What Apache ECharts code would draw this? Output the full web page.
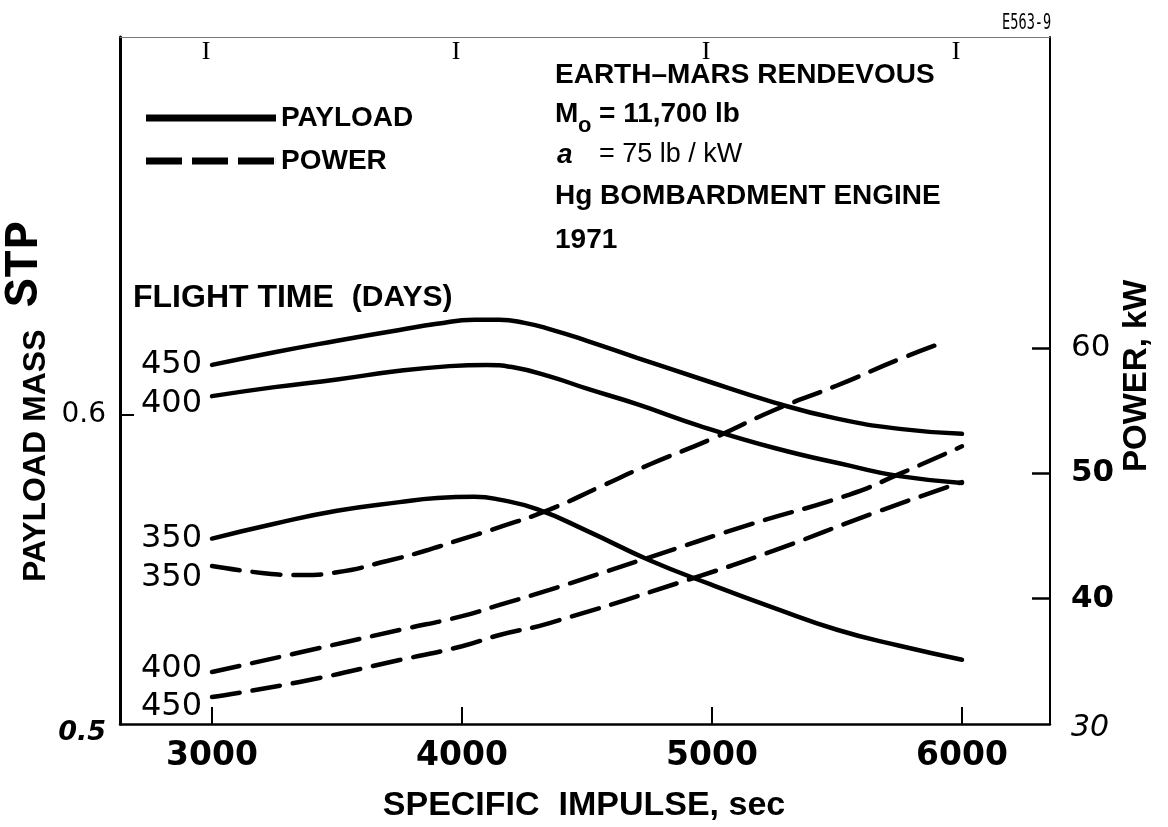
<!DOCTYPE html>
<html><head><meta charset="utf-8">
<script src="https://cdn.jsdelivr.net/npm/echarts@6/dist/echarts.min.js"></script>
<style>html,body{margin:0;padding:0;background:#fff}#c{width:1168px;height:827px}</style>
</head><body><div id="c"></div><script>
// ---- data ----
const xTicks = [3000, 4000, 5000, 6000];
const leftLabels = [0.5, 0.6];
const leftTicks = [0.6];
const rightLabels = [30, 40, 50, 60];
const rightTicks = [40, 50, 60];

const payload450X = [3000,3250,3500,3750,3900,4050,4150,4250,4350,4500,4700,4950,5250,5500,5750,6000];
const payload450Y = [0.6162,0.6203,0.6240,0.6275,0.6295,0.6308,0.6308,0.6298,0.6278,0.6240,0.6185,0.6118,0.6040,0.5988,0.5955,0.5939];
const payload400X = [3000,3250,3500,3750,3950,4100,4200,4350,4500,4700,4950,5250,5550,5750,6000];
const payload400Y = [0.6061,0.6090,0.6115,0.6143,0.6158,0.6162,0.6155,0.6125,0.6085,0.6035,0.5965,0.5893,0.5836,0.5802,0.5780];
const payload350X = [3000,3250,3500,3750,3900,4050,4150,4300,4500,4750,5000,5250,5500,5750,6000];
const payload350Y = [0.5600,0.5648,0.5690,0.5718,0.5731,0.5735,0.5726,0.5695,0.5625,0.5530,0.5450,0.5375,0.5305,0.5253,0.5208];

const power350X = [3000,3200,3350,3500,3700,3850,4000,4150,4350,4550,4750,5000,5250,5500,5750,5920];
const power350Y = [42.6,42.05,41.88,42.1,43.0,43.8,44.75,45.7,47.1,48.9,50.7,52.75,55.05,57.0,59.1,60.4];
const power400X = [3000,3350,3750,4000,4150,4350,4750,5150,5550,5750,6000];
const power400Y = [34.15,35.7,37.5,38.6,39.5,40.7,43.3,45.9,48.3,49.95,52.15];
const power450X = [3000,3350,3750,4000,4150,4350,4950,5250,5650,6000];
const power450Y = [32.15,33.35,35.1,36.2,37.1,38.05,41.8,43.85,46.85,49.3];

const payloadDays = ['450', '400', '350'];
const powerDays = ['350', '400', '450'];
const legendNames = ['PAYLOAD', 'POWER'];

// ---- chart ----
function mk(name, xs, ys, yAxisIndex, dashed, labelText, labelDy) {
  return {
    name: name, type: 'line', xAxisIndex: 0, yAxisIndex: yAxisIndex,
    smooth: 0.5,
    symbol: 'none', showSymbol: true, showAllSymbol: true,
    silent: true, animation: false, z: 3,
    lineStyle: { color: '#000', width: 4.5, type: dashed ? [28, 13] : 'solid', cap: 'round' },
    itemStyle: { color: '#000' },
    data: xs.map(function (x, i) {
      if (i === 0) {
        return { value: [x, ys[i]], symbol: 'circle', symbolSize: 0,
          label: { show: true, position: 'left', distance: 10, formatter: labelText,
            offset: [0, labelDy], fontSize: 32, fontFamily: 'DejaVu Sans', color: '#000' } };
      }
      return [x, ys[i]];
    })
  };
}

const chart = echarts.init(document.getElementById('c'), null, { renderer: 'canvas' });
const F = 'Liberation Sans';
chart.setOption({
  backgroundColor: '#fff',
  animation: false,
  grid: { left: 120, right: 118, top: 37, bottom: 103, containLabel: false },
  legend: {
    orient: 'vertical', left: 141, top: 99, itemWidth: 130, itemHeight: 7, itemGap: 15, itemTextGap: 19,
    selectedMode: false, symbolKeepAspect: false,
    itemStyle: { color: '#000', borderWidth: 0, borderColor: 'transparent' },
    textStyle: { fontFamily: F, fontWeight: 'bold', fontSize: 28, color: '#000' },
    data: [
      { name: legendNames[0], icon: 'path://M0,0H130V6H0Z', itemStyle: { color: '#000', borderWidth: 0 } },
      { name: legendNames[1], icon: 'path://M0,0H36V6H0Z M46,0H82V6H46Z M92,0H128V6H92Z M129.9,0H130V6H129.9Z', itemStyle: { color: '#000', borderWidth: 0 } }
    ]
  },
  xAxis: [
    { type: 'value', min: 2632, max: 6352, position: 'bottom',
      axisLine: { show: true, onZero: false, lineStyle: { color: '#000', width: 2.5 } },
      axisTick: { show: true, inside: true, length: 17, customValues: xTicks, lineStyle: { color: '#000', width: 2 } },
      axisLabel: { customValues: xTicks, margin: 16, fontFamily: 'DejaVu Sans', fontWeight: 'bold', fontSize: 33, color: '#000',
        formatter: function (v) { return String(v); } },
      splitLine: { show: false } },
    { type: 'value', min: 2632, max: 6352, position: 'top',
      axisLine: { show: true, onZero: false, lineStyle: { color: '#777', width: 1 } },
      axisTick: { show: false },
      axisLabel: { inside: true, customValues: xTicks, formatter: function () { return 'I'; }, margin: 2,
        fontFamily: 'Liberation Serif', fontSize: 26, color: '#000', padding: [0, 12, 0, 0] },
      splitLine: { show: false } }
  ],
  yAxis: [
    { type: 'value', min: 0.5, max: 0.7223, position: 'left',
      axisLine: { show: true, onZero: false, lineStyle: { color: '#000', width: 3 } },
      axisTick: { show: true, inside: true, length: 14, customValues: leftTicks, lineStyle: { color: '#000', width: 2 } },
      axisLabel: { customValues: leftLabels, margin: 14, color: '#000',
        formatter: function (v) { return v < 0.55 ? '{bi|' + v.toFixed(1) + '}' : '{n|' + v.toFixed(1) + '}'; },
        rich: {
          n: { fontFamily: 'DejaVu Sans', fontSize: 28, color: '#000' },
          bi: { fontFamily: 'DejaVu Sans', fontSize: 27, fontWeight: 'bold', fontStyle: 'italic', color: '#000', padding: [18, 0, 0, 0] }
        } },
      splitLine: { show: false } },
    { type: 'value', min: 30, max: 84.8, position: 'right',
      axisLine: { show: true, onZero: false, lineStyle: { color: '#000', width: 2 } },
      axisTick: { show: true, inside: true, length: 18, customValues: rightTicks, lineStyle: { color: '#000', width: 2.5 } },
      axisLabel: { customValues: rightLabels, margin: 21, color: '#000',
        formatter: function (v) {
          if (v === 60) return '{n|' + v + '}';
          if (v === 30) return '{i|' + v + '}';
          return '{b|' + v + '}';
        },
        rich: {
          n: { fontFamily: 'DejaVu Sans', fontSize: 31, color: '#000' },
          b: { fontFamily: 'DejaVu Sans', fontSize: 31, fontWeight: 'bold', color: '#000' },
          i: { fontFamily: 'DejaVu Sans', fontSize: 30, fontStyle: 'italic', color: '#000', padding: [8, 0, 0, 0] }
        } },
      splitLine: { show: false } }
  ],
  series: [
    mk(legendNames[0], payload450X, payload450Y, 0, false, payloadDays[0], 0),
    mk(legendNames[0], payload400X, payload400Y, 0, false, payloadDays[1], 8),
    mk(legendNames[0], payload350X, payload350Y, 0, false, payloadDays[2], 0),
    mk(legendNames[1], power350X, power350Y, 1, true, powerDays[0], 12),
    mk(legendNames[1], power400X, power400Y, 1, true, powerDays[1], -3),
    mk(legendNames[1], power450X, power450Y, 1, true, powerDays[2], 10)
  ],
  graphic: [
    { type: 'text', x: 1002, y: 12, scaleX: 0.62, style: { text: 'E563-9', font: '22px "DejaVu Sans Mono"', fill: '#000' } },
    { type: 'text', x: 555, y: 75, style: { text: 'EARTH\u2013MARS RENDEVOUS', font: 'bold 28px "Liberation Sans"', fill: '#000', verticalAlign: 'middle' } },
    { type: 'text', x: 555, y: 114, style: { text: 'M', font: 'bold 28px "Liberation Sans"', fill: '#000', verticalAlign: 'middle' } },
    { type: 'text', x: 578, y: 126, style: { text: 'o', font: 'bold 22px "Liberation Sans"', fill: '#000', verticalAlign: 'middle' } },
    { type: 'text', x: 599, y: 114, style: { text: '= 11,700 lb', font: 'bold 28px "Liberation Sans"', fill: '#000', verticalAlign: 'middle' } },
    { type: 'text', x: 557, y: 155, style: { text: 'a', font: 'italic bold 28px "Liberation Sans"', fill: '#000', verticalAlign: 'middle' } },
    { type: 'text', x: 599, y: 155, style: { text: '= 75 lb / kW', font: '27px "Liberation Sans"', fill: '#000', verticalAlign: 'middle' } },
    { type: 'text', x: 555, y: 196, style: { text: 'Hg BOMBARDMENT ENGINE', font: 'bold 28px "Liberation Sans"', fill: '#000', verticalAlign: 'middle' } },
    { type: 'text', x: 555, y: 240, style: { text: '1971', font: 'bold 28px "Liberation Sans"', fill: '#000', verticalAlign: 'middle' } },
    { type: 'text', x: 133, y: 298, style: {
        text: '{a|FLIGHT TIME}{b|(DAYS)}', verticalAlign: 'middle',
        rich: { a: { font: 'bold 32px "Liberation Sans"', fill: '#000' },
                b: { font: 'bold 30px "Liberation Sans"', fill: '#000', padding: [0, 0, 0, 18] } } } },
    { type: 'text', x: 36, y: 582, rotation: Math.PI / 2, style: {
        text: 'PAYLOAD MASS', font: 'bold 32px "Liberation Sans"', fill: '#000', align: 'left', verticalAlign: 'middle' } },
    { type: 'text', x: 25, y: 307, rotation: Math.PI / 2, style: {
        text: 'STP', font: 'bold 48px "Liberation Mono"', fill: '#000', align: 'left', verticalAlign: 'middle' } },
    { type: 'text', x: 1137, y: 472, rotation: Math.PI / 2, style: {
        text: 'POWER, kW', font: 'bold 33px "Liberation Sans"', fill: '#000', align: 'left', verticalAlign: 'middle' } },
    { type: 'text', left: 'center', top: 789, style: {
        text: 'SPECIFIC  IMPULSE, sec', font: 'bold 34px "Liberation Sans"', fill: '#000' } }
  ]
});
</script></body></html>
